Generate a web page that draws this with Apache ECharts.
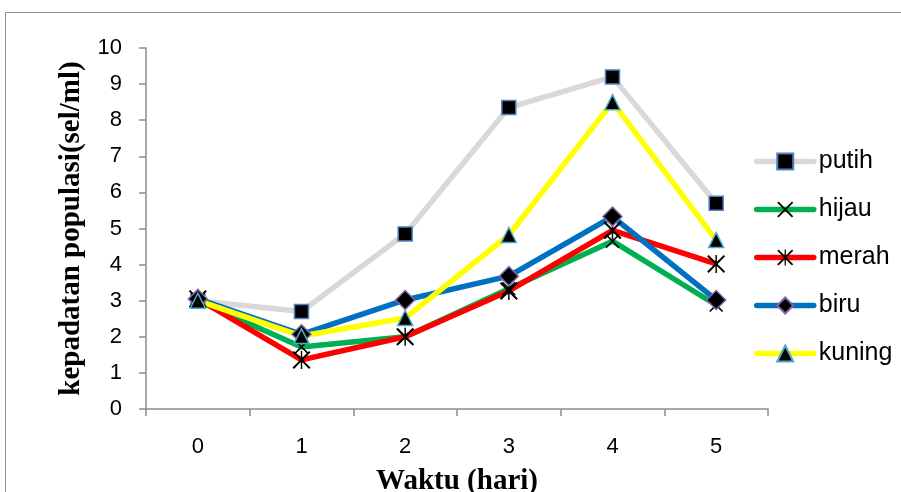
<!DOCTYPE html>
<html>
<head>
<meta charset="utf-8">
<script src="https://cdn.jsdelivr.net/npm/echarts@6/dist/echarts.min.js"></script>
<style>html,body{margin:0;padding:0;background:#fff}#c{width:901px;height:492px}</style>
</head>
<body>
<div id="c"></div>
<script>
var categories = ['0', '1', '2', '3', '4', '5'];
var putih  = [3.0, 2.7, 4.85, 8.35, 9.2, 5.7];
var hijau  = [3.0, 1.72, 2.0, 3.33, 4.65, 2.88];
var merah  = [3.05, 1.36, 2.0, 3.27, 4.95, 4.02];
var biru   = [3.05, 2.07, 3.02, 3.68, 5.33, 3.02];
var kuning = [3.0, 2.02, 2.52, 4.82, 8.5, 4.68];
var yTicks = {min: 0, max: 10, interval: 1};

var xPath = 'path://M0,1.6 L1.6,0 L10,8.4 L18.4,0 L20,1.6 L11.6,10 L20,18.4 L18.4,20 L10,11.6 L1.6,20 L0,18.4 L8.4,10 Z';
var starPath = 'path://M0,1.6 L1.6,0 L10,8.4 L18.4,0 L20,1.6 L11.6,10 L20,18.4 L18.4,20 L10,11.6 L1.6,20 L0,18.4 L8.4,10 Z M9.2,0 L10.8,0 L10.8,20 L9.2,20 Z';

var chart = echarts.init(document.getElementById('c'), null, {renderer: 'canvas'});
var sans = '"Liberation Sans", Arial, sans-serif';
var serif = '"Liberation Serif", "Times New Roman", serif';

function mk(name, data, color, symbol, size, mColor, bColor, bWidth) {
  return {
    name: name, type: 'line', data: data,
    lineStyle: {color: color, width: 5.5},
    itemStyle: {color: mColor, borderColor: bColor, borderWidth: bWidth},
    symbol: symbol, symbolSize: size, showAllSymbol: true,
    emphasis: {disabled: true}, animation: false
  };
}

chart.setOption({
  animation: false,
  backgroundColor: '#fff',
  graphic: [{type: 'rect', shape: {x: 5.5, y: 12.5, width: 920, height: 500}, style: {fill: 'none', stroke: '#8c8c8c', lineWidth: 1}, silent: true}],
  grid: {left: 146, right: 133, top: 48, bottom: 83, containLabel: false, outerBoundsMode: 'none'},
  legend: {
    orient: 'vertical', left: 749, top: 144, itemWidth: 57, itemHeight: 20, itemGap: 23,
    lineStyle: {width: 5.5, cap: 'round'},
    textStyle: {fontFamily: sans, fontSize: 25, color: '#000'},
    data: ['putih', 'hijau', 'merah', 'biru', 'kuning']
  },
  xAxis: {
    type: 'category', data: categories, boundaryGap: true,
    name: 'Waktu (hari)', nameLocation: 'middle', nameGap: 58,
    nameTextStyle: {fontFamily: serif, fontWeight: 'bold', fontSize: 29, color: '#000'},
    axisLine: {lineStyle: {color: '#8c8c8c', width: 1.5}},
    axisTick: {show: true, length: 7, lineStyle: {color: '#8c8c8c', width: 1.5}},
    axisLabel: {fontFamily: sans, fontSize: 22, color: '#000', margin: 27}
  },
  yAxis: {
    type: 'value', min: yTicks.min, max: yTicks.max, interval: yTicks.interval,
    name: 'kepadatan populasi(sel/ml)', nameLocation: 'middle', nameGap: 60, nameRotate: 90,
    nameTextStyle: {fontFamily: serif, fontWeight: 'bold', fontSize: 29, color: '#000'},
    axisLine: {show: true, lineStyle: {color: '#8c8c8c', width: 1.5}},
    axisTick: {show: true, length: 7, lineStyle: {color: '#8c8c8c', width: 1.5}},
    splitLine: {show: false},
    axisLabel: {fontFamily: sans, fontSize: 22, color: '#000', margin: 24}
  },
  series: [
    mk('putih', putih, '#d9d9d9', 'rect', 14, '#000', '#4f81bd', 1.5),
    mk('hijau', hijau, '#00b050', xPath, 14, '#000', '#000', 0),
    mk('merah', merah, '#ff0000', starPath, 18, '#000', '#000', 0),
    mk('biru', biru, '#0070c0', 'diamond', 19, '#000', '#8064a2', 1.5),
    mk('kuning', kuning, '#ffff00', 'triangle', 15, '#000', '#4bacc6', 1.5)
  ]
});
</script>
</body>
</html>
